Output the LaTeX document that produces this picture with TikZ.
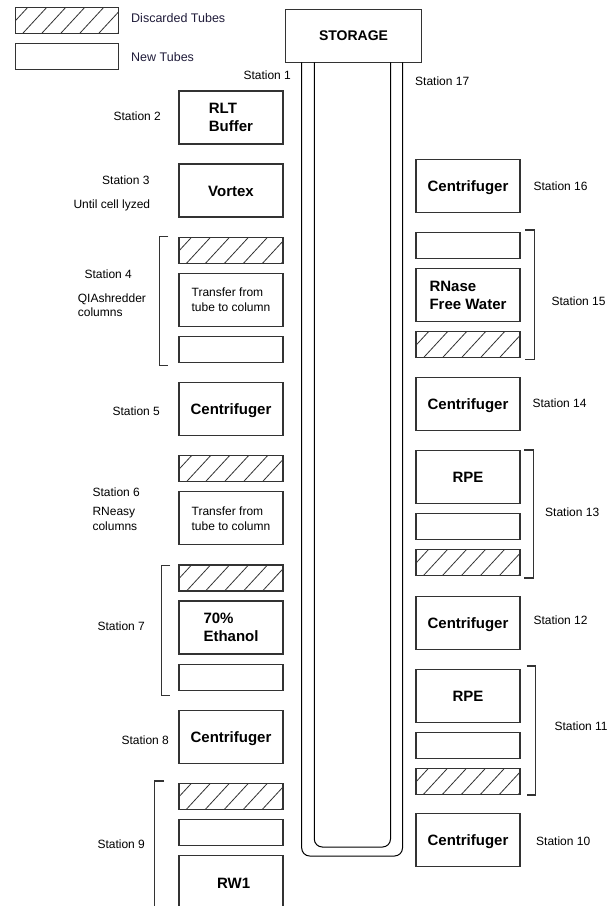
\documentclass[tikz,border=0pt]{standalone}
\usepackage{fontspec}
\setmainfont{Liberation Sans}
\usetikzlibrary{calc}
\definecolor{legendtext}{RGB}{32,28,58}
\tikzset{
  tubebox/.style={draw=black!80, line width=1.1pt, minimum width=104pt, inner sep=0pt, outer sep=0pt},
  tallbox/.style={tubebox, minimum height=53pt},
  shortbox/.style={tubebox, minimum height=26pt},
  boldlbl/.style={font=\fontsize{15}{18}\selectfont\bfseries, align=left},
  onebold/.style={font=\fontsize{15}{18}\selectfont\bfseries, text height=11pt, text depth=0pt},
  smalllbl/.style={font=\fontsize{12}{15}\selectfont, align=left},
  stlbl/.style={anchor=base west, inner sep=0pt, font=\fontsize{12}{14}\selectfont},
  bracketline/.style={draw=black!80, line width=1.1pt},
  tubeline/.style={draw=black, line width=1pt, rounded corners=8pt},
  hatchline/.style={draw=black!80, line width=0.8pt}
}
\newcommand\hatchit[1]{%
  \begin{scope}
    \clip (#1.south west) rectangle (#1.north east);
    \foreach \k in {-1,...,5} {
      \draw[hatchline] ($(#1.south west)+(7.5+19*\k,0)$) -- ++(24,-26);
    }
  \end{scope}}
\begin{document}
\begin{tikzpicture}[x=1pt,y=-1pt]
\clip (0,0) rectangle (616,906);
\fill[white] (0,0) rectangle (616,906);

% legend
\node[shortbox, minimum width=103pt] (legD) at (66.8,20.3) {};
\hatchit{legD}
\node[shortbox, minimum width=103pt] (legN) at (66.8,56.3) {};
\node[stlbl, text=legendtext, font=\fontsize{12.5}{14}\selectfont] (legDt) at (131,22.8) {Discarded Tubes};
\node[stlbl, text=legendtext, font=\fontsize{12.5}{14}\selectfont] (legNt) at (131,61) {New Tubes};

% storage and tube loop
\node[tubebox, minimum width=136.4pt, minimum height=53pt] (storage) at (353.5,35.8)
  {\fontsize{14}{16}\selectfont\bfseries STORAGE};
\coordinate (o1) at ($(storage.south west)+(16.4,0)$);
\coordinate (o2) at ($(storage.south west)+(117.2,0)$);
\coordinate (i1) at ($(storage.south west)+(29,0)$);
\coordinate (i2) at ($(storage.south west)+(105.2,0)$);
\draw[tubeline] (o1) -- (o1 |- 0,856) -- (o2 |- 0,856) -- (o2);
\draw[tubeline] (i1) -- (i1 |- 0,847) -- (i2 |- 0,847) -- (i2);

% left column
\node[tallbox, boldlbl] (s2) at (231,117.5) {RLT\\Buffer};
\node[tallbox, onebold] (s3) at (231,190.5) {Vortex};
\node[shortbox] (s4a) at (231,250.3) {};
\hatchit{s4a}
\node[tallbox, smalllbl] (s4b) at (231,300) {Transfer from\\tube to column};
\node[shortbox] (s4c) at (231,349.7) {};
\node[tallbox, onebold] (s5) at (231,409.3) {Centrifuger};
\node[shortbox] (s6a) at (231,468.7) {};
\hatchit{s6a}
\node[tallbox, smalllbl] (s6b) at (231,518.3) {Transfer from\\tube to column};
\node[shortbox] (s7a) at (231,578) {};
\hatchit{s7a}
\node[tallbox, boldlbl] (s7b) at (231,627.5) {70\%\\Ethanol};
\node[shortbox] (s7c) at (231,677.2) {};
\node[tallbox, onebold] (s8) at (231,736.7) {Centrifuger};
\node[shortbox] (s9a) at (231,796.2) {};
\hatchit{s9a}
\node[shortbox] (s9b) at (231,832.3) {};
\node[tubebox, minimum height=60pt] (s9c) at (231,885.3) {};
\node[onebold, inner sep=0pt] (s9ct) at (233.7,882.7) {RW1};

% right column
\node[tallbox, onebold] (s16) at (468,185.8) {Centrifuger};
\node[shortbox] (s15a) at (468,245.6) {};
\node[tallbox, boldlbl] (s15b) at (468,295) {RNase\\Free Water};
\node[shortbox] (s15c) at (468,344.7) {};
\hatchit{s15c}
\node[tallbox, onebold] (s14) at (468,404.3) {Centrifuger};
\node[tallbox, onebold] (s13a) at (468,477) {RPE};
\node[shortbox] (s13b) at (468,526.8) {};
\node[shortbox] (s13c) at (468,562.5) {};
\hatchit{s13c}
\node[tallbox, onebold] (s12) at (468,622.7) {Centrifuger};
\node[tallbox, onebold] (s11a) at (468,695.7) {RPE};
\node[shortbox] (s11b) at (468,745.2) {};
\node[shortbox] (s11c) at (468,781.3) {};
\hatchit{s11c}
\node[tallbox, onebold] (s10) at (468,839.7) {Centrifuger};

% brackets
\draw[bracketline] (168.3,236.7) -- (159.3,236.7) -- (159.3,365.7) -- (168.3,365.7);
\draw[bracketline] (170,565.3) -- (161.3,565.3) -- (161.3,695.3) -- (170,695.3);
\draw[bracketline] (164,781) -- (154.3,781) -- (154.3,910);
\draw[bracketline] (525.3,230) -- (534.3,230) -- (534.3,359.3) -- (525.3,359.3);
\draw[bracketline] (524.3,450) -- (533.3,450) -- (533.3,578) -- (524.3,578);
\draw[bracketline] (526.7,666) -- (535.7,666) -- (535.7,795) -- (526.7,795);

% station labels
\node[stlbl] (l1) at (243.3,79.3) {Station 1};
\node[stlbl] (l2) at (113.3,120.3) {Station 2};
\node[stlbl] (l3) at (102,184.3) {Station 3};
\node[stlbl] (l3b) at (73.3,208.6) {Until cell lyzed};
\node[stlbl] (l17) at (415,85.6) {Station 17};
\node[stlbl] (l16) at (533.3,190) {Station 16};
\node[stlbl] (l4) at (84.3,278) {Station 4};
\node[stlbl] (l4b) at (77.7,302.6) {QIAshredder};
\node[stlbl] (l4c) at (77.7,316.6) {columns};
\node[stlbl] (l5) at (112.3,415.3) {Station 5};
\node[stlbl] (l15) at (551.3,305.3) {Station 15};
\node[stlbl] (l14) at (532.3,407.6) {Station 14};
\node[stlbl] (l6) at (92.3,496.6) {Station 6};
\node[stlbl] (l6b) at (92.3,515.3) {RNeasy};
\node[stlbl] (l6c) at (92.3,530.6) {columns};
\node[stlbl] (l13) at (545,516) {Station 13};
\node[stlbl] (l7) at (97.3,630.6) {Station 7};
\node[stlbl] (l12) at (533.3,624.6) {Station 12};
\node[stlbl] (l11) at (554.3,730.6) {Station 11};
\node[stlbl] (l8) at (121.3,744.6) {Station 8};
\node[stlbl] (l10) at (536,845) {Station 10};
\node[stlbl] (l9) at (97.3,848.6) {Station 9};
\end{tikzpicture}
\end{document}
